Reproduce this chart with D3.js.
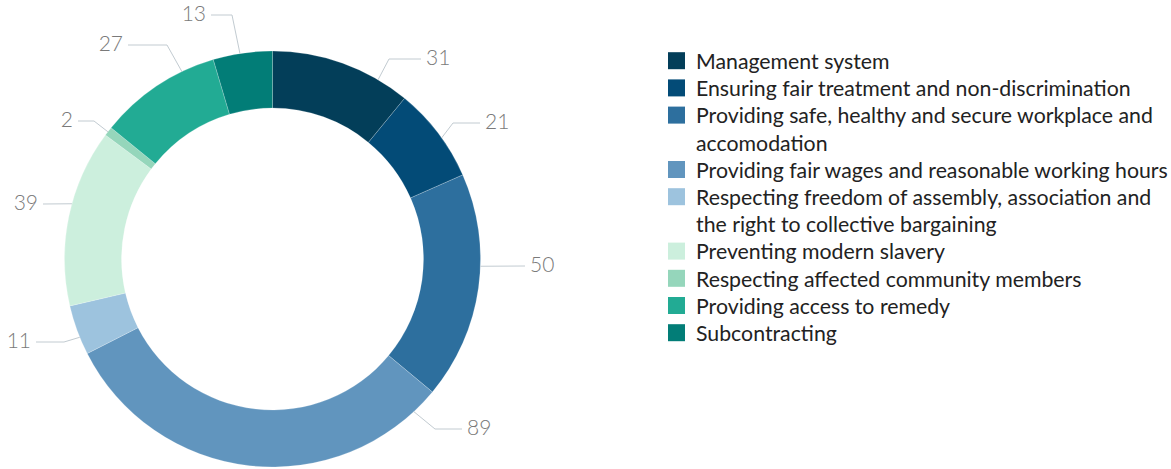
<!DOCTYPE html>
<html><head><meta charset="utf-8">
<script src="https://cdn.jsdelivr.net/npm/d3@7/dist/d3.min.js"></script>
<style>
html,body{margin:0;padding:0;background:#fff;}
svg{display:block;}
</style></head>
<body>
<svg id="chart" width="1171" height="469"></svg>
<script>
const categories = [
  "Management system",
  "Ensuring fair treatment and non-discrimination",
  "Providing safe, healthy and secure workplace and accomodation",
  "Providing fair wages and reasonable working hours",
  "Respecting freedom of assembly, association and the right to collective bargaining",
  "Preventing modern slavery",
  "Respecting affected community members",
  "Providing access to remedy",
  "Subcontracting"
];
const values = [31, 21, 50, 89, 11, 39, 2, 27, 13];
const colors = ["#033e59", "#034b77", "#2d6f9e", "#6195be", "#9dc3de", "#ccefdd", "#95d6bb", "#22ab94", "#027d77"];

// label layout (annotation placement): angle on ring (deg from top), elbow point, label end
const labelLayout = [
  {a: 30.5, elbow: [389, 59],  end: [421, 59],  side: "r"},
  {a: 54.4, elbow: [453, 123], end: [480, 123], side: "r"},
  {a: 92.0, elbow: null,       end: [525, 266], side: "r"},
  {a: 137.2, elbow: [435, 429], end: [462, 429], side: "r"},
  {a: 247.9, elbow: [64, 342],  end: [36, 342],  side: "l"},
  {a: 285.4, elbow: null,       end: [43, 204],  side: "l"},
  {a: 307.7, elbow: [94, 121],  end: [78, 121],  side: "l"},
  {a: 334.2, elbow: [167, 45],  end: [128, 45],  side: "l"},
  {a: 351.0, elbow: [232, 15],  end: [211, 15],  side: "l"}
];

const svg = d3.select("#chart");
const cx = 272.5, cy = 259, R = 208, r = 151;
const data = categories.map((c, i) => ({name: c, value: values[i], color: colors[i], lab: labelLayout[i]}));

const pie = d3.pie().value(d => d.value).sort(null).startAngle(0).endAngle(2 * Math.PI);
const arc = d3.arc().innerRadius(r).outerRadius(R);
const arcs = pie(data);

const g = svg.append("g").attr("transform", `translate(${cx},${cy})`);
g.selectAll("path.slice").data(arcs).enter().append("path")
  .attr("class", "slice")
  .attr("d", arc)
  .attr("fill", d => d.data.color)
  .attr("stroke", "#ffffff").attr("stroke-width", 0.4).attr("stroke-opacity", 0.5);

// connectors & labels
const lineColor = "#c2cbd1";
arcs.forEach(d => {
  const L = d.data.lab;
  const ang = L.a * Math.PI / 180;
  const ax = cx + R * Math.sin(ang), ay = cy - R * Math.cos(ang);
  const pts = [[ax, ay]];
  if (L.elbow) pts.push(L.elbow);
  pts.push(L.end);
  svg.append("path")
    .attr("d", d3.line()(pts))
    .attr("fill", "none").attr("stroke", lineColor).attr("stroke-width", 1);
  svg.append("text")
    .attr("x", L.side === "r" ? L.end[0] + 5 : L.end[0] - 5)
    .attr("y", L.end[1])
    .attr("dy", "0.28em")
    .attr("text-anchor", L.side === "r" ? "start" : "end")
    .attr("font-family", "Lato, 'Noto Sans', sans-serif")
    .attr("font-weight", 300)
    .attr("font-size", 21)
    .attr("fill", "#7a7a7a")
    .text(d.data.value);
});

// legend
const legendFont = "Lato, 'Noto Sans', sans-serif";
const probe = svg.append("text").attr("font-family", legendFont).attr("font-size", 20)
  .text("Providing fair wages and reasonable working hours");
const w20 = probe.node().getComputedTextLength();
probe.remove();
const fs = 20 * 472 / w20;
const maxW = 476;
const lx = 668, tx = 696, lineH = 27.2, baseline0 = 69;
const legend = svg.append("g");
let line = 0;
data.forEach(d => {
  const words = d.name.split(" ");
  const lines = [];
  let cur = "";
  const t = legend.append("text").attr("font-family", legendFont).attr("font-size", fs).attr("fill", "#222");
  words.forEach(w => {
    const test = cur ? cur + " " + w : w;
    t.text(test);
    if (t.node().getComputedTextLength() > maxW && cur) { lines.push(cur); cur = w; }
    else cur = test;
  });
  lines.push(cur);
  t.text(null);
  const by = baseline0 + line * lineH;
  legend.append("rect").attr("x", lx).attr("y", by - 16.8).attr("width", 17).attr("height", 17).attr("fill", d.color);
  lines.forEach((s, k) => {
    t.append("tspan").attr("x", tx).attr("y", by + k * lineH).text(s);
  });
  line += lines.length;
});
</script>
</body></html>
